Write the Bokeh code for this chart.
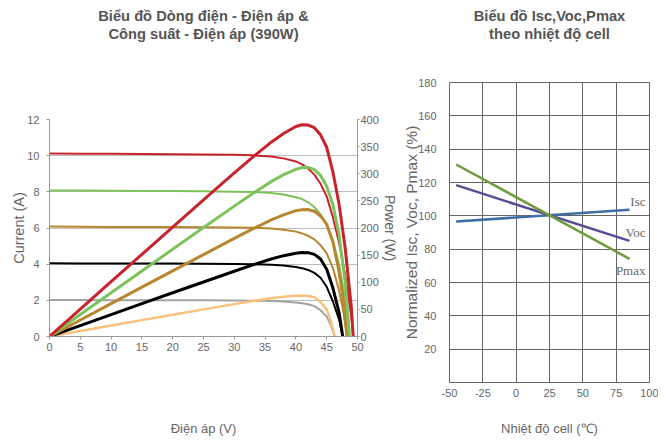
from jinja2 import Template
from bokeh.plotting import figure
from bokeh.models import Range1d, LinearAxis, FixedTicker, Label, Title
from bokeh.embed import file_html
from bokeh.resources import INLINE

# ---------------- Left chart data (I-V and P-V curves) ----------------
v_red = [0, 5, 10, 15, 20, 25, 30, 33, 36, 38, 40, 41, 42, 43, 44, 45, 46, 47, 48, 49, 49.3]
i_red = [10.12, 10.11, 10.1, 10.09, 10.08, 10.07, 10.05, 10.02, 9.95, 9.85, 9.68, 9.52, 9.28, 8.95, 8.45, 7.75, 6.6, 5.2, 3.4, 1.1, 0]
p_red = [0, 50.6, 101, 151.4, 201.6, 251.8, 301.5, 330.7, 358.2, 374.3, 387.2, 390.3, 389.8, 384.9, 371.8, 348.8, 303.6, 244.4, 163.2, 53.9, 0]

v_green = [0, 5, 10, 15, 20, 25, 30, 33, 36, 38, 40, 41, 42, 43, 44, 45, 46, 47, 48, 48.7]
i_green = [8.08, 8.07, 8.06, 8.05, 8.04, 8.03, 8.01, 7.99, 7.93, 7.85, 7.7, 7.6, 7.42, 7.15, 6.75, 6.15, 5.3, 4.0, 2.1, 0]
p_green = [0, 40.4, 80.6, 120.8, 160.8, 200.8, 240.3, 263.7, 285.5, 298.3, 308.0, 311.6, 311.6, 307.5, 297.0, 276.8, 243.8, 188.0, 100.8, 0]

v_brown = [0, 5, 10, 15, 20, 25, 30, 33, 36, 38, 40, 41, 42, 43, 44, 45, 46, 47, 47.7, 48.3]
i_brown = [6.08, 6.07, 6.06, 6.06, 6.05, 6.04, 6.03, 6.01, 5.97, 5.9, 5.8, 5.7, 5.57, 5.37, 5.05, 4.6, 3.8, 2.55, 1.4, 0]
p_brown = [0, 30.4, 60.6, 90.9, 121, 151, 180.9, 198.3, 214.9, 224.2, 232.0, 233.7, 233.9, 230.9, 222.2, 207.0, 174.8, 119.9, 66.8, 0]

v_black = [0, 5, 10, 15, 20, 25, 30, 33, 36, 38, 40, 41, 42, 43, 44, 45, 46, 47, 47.6]
i_black = [4.05, 4.04, 4.04, 4.03, 4.03, 4.02, 4.01, 4.0, 3.97, 3.92, 3.84, 3.78, 3.68, 3.52, 3.25, 2.75, 1.95, 0.95, 0]
p_black = [0, 20.2, 40.4, 60.5, 80.6, 100.5, 120.3, 132, 142.9, 149, 153.6, 155, 154.6, 151.4, 143.0, 123.8, 89.7, 44.7, 0]

v_gray = [0, 5, 10, 15, 20, 25, 30, 33, 36, 38, 40, 41, 42, 43, 44, 45, 45.7, 46.3]
i_gray = [2.02, 2.02, 2.01, 2.01, 2.0, 2.0, 1.99, 1.98, 1.96, 1.93, 1.88, 1.84, 1.78, 1.68, 1.45, 1.1, 0.6, 0]
p_gray = [0, 10.1, 20.1, 30.2, 40, 50, 59.7, 65.3, 70.6, 73.3, 75.2, 75.4, 74.8, 72.2, 63.8, 49.5, 27.4, 0]

x_ticks_left = [0, 5, 10, 15, 20, 25, 30, 35, 40, 45, 50]
y_ticks_current = [0, 2, 4, 6, 8, 10, 12]
y_ticks_power = [0, 50, 100, 150, 200, 250, 300, 350, 400]

# ---------------- Right chart data (temperature coefficients) ----------------
temp = [-45, 85]
isc_pct = [96.6, 103.6]
voc_pct = [118.4, 85.0]
pmax_pct = [130.8, 74.2]
x_ticks_right = [-50, -25, 0, 25, 50, 75, 100]
y_ticks_right = [20, 40, 60, 80, 100, 120, 140, 160, 180]

FONT = "Liberation Sans"
TICK_C = "#666666"
LABEL_C = "#666666"
TITLE_C = "#555555"
TITLE_SIZE = "14.7px"


def add_titles(p, line1, line2, gap):
    # spacer first (closest to the frame), then the two title lines stacked above it
    p.add_layout(Title(text=" ", align="center", standoff=gap, text_font=FONT,
                       text_font_size="1px", text_color=TITLE_C), "above")
    p.add_layout(Title(text=line2, align="center", standoff=0, text_font=FONT,
                       text_font_size=TITLE_SIZE, text_font_style="bold", text_color=TITLE_C), "above")
    p.add_layout(Title(text=line1, align="center", standoff=0, text_font=FONT,
                       text_font_size=TITLE_SIZE, text_font_style="bold", text_color=TITLE_C), "above")


def style_axis(ax, label_size):
    ax.minor_tick_line_color = None
    ax.major_label_text_font = FONT
    ax.major_label_text_font_size = "11px"
    ax.major_label_text_color = TICK_C
    ax.axis_label_text_font = FONT
    ax.axis_label_text_font_size = label_size
    ax.axis_label_text_font_style = "normal"
    ax.axis_label_text_color = LABEL_C


# ================= Left figure =================
p1 = figure(width=421, height=440, x_range=Range1d(0, 50), y_range=Range1d(0, 12),
            output_backend="svg", toolbar_location=None,
            min_border_left=53, min_border_right=60, min_border_top=115, min_border_bottom=108)
p1.extra_y_ranges = {"power": Range1d(0, 400)}
p1.outline_line_color = None
p1.background_fill_color = "white"

p1.xaxis.ticker = FixedTicker(ticks=x_ticks_left)
p1.yaxis.ticker = FixedTicker(ticks=y_ticks_current)
p1.xgrid.visible = False
p1.ygrid.grid_line_color = "#bdbdbd"
p1.ygrid.grid_line_width = 1

rax = LinearAxis(y_range_name="power", ticker=FixedTicker(ticks=y_ticks_power), axis_label="Power (W)")
p1.add_layout(rax, "right")

lax, bax = p1.yaxis[0], p1.xaxis[0]
for ax in [bax, lax, rax]:
    ax.axis_line_color = "#999999"
    ax.major_tick_line_color = "#999999"
    ax.major_tick_in = 0

style_axis(bax, "13px")
style_axis(lax, "14.5px")
style_axis(rax, "14px")

lax.axis_label = "Current (A)"
lax.major_tick_out = 3
lax.major_label_standoff = 7
lax.axis_label_standoff = -3

rax.major_tick_out = 2
rax.major_label_standoff = 1
rax.axis_label_standoff = 0

bax.axis_label = "Điện áp (V)"
bax.major_tick_out = 3
bax.major_label_standoff = 3
bax.axis_label_standoff = 67

c_red, c_green, c_brown, c_black, c_gray, c_orange = "#c8232c", "#7dc35b", "#b8862f", "#000000", "#a3a3a3", "#f8c27c"

# I-V curves
p1.line(v_red, i_red, line_color=c_red, line_width=2)
p1.line(v_green, i_green, line_color=c_green, line_width=2)
p1.line(v_brown, i_brown, line_color=c_brown, line_width=2)
p1.line(v_black, i_black, line_color=c_black, line_width=2)
p1.line(v_gray, i_gray, line_color=c_gray, line_width=2)
# P-V curves
p1.line(v_gray, p_gray, line_color=c_orange, line_width=2.5, y_range_name="power")
p1.line(v_black, p_black, line_color=c_black, line_width=3, y_range_name="power")
p1.line(v_brown, p_brown, line_color=c_brown, line_width=3, y_range_name="power")
p1.line(v_green, p_green, line_color=c_green, line_width=3, y_range_name="power")
p1.line(v_red, p_red, line_color=c_red, line_width=3, y_range_name="power")

add_titles(p1, "Biểu đồ Dòng điện - Điện áp &", "Công suất - Điện áp (390W)", 75)

# ================= Right figure =================
p2 = figure(width=269, height=440, x_range=Range1d(-50, 100), y_range=Range1d(0, 180),
            output_backend="svg", toolbar_location=None,
            min_border_left=60, min_border_right=9, min_border_top=78, min_border_bottom=62)
p2.border_fill_color = None
p2.background_fill_color = "white"
p2.outline_line_color = "#666666"
p2.outline_line_width = 1
p2.xaxis.ticker = FixedTicker(ticks=x_ticks_right)
p2.yaxis.ticker = FixedTicker(ticks=y_ticks_right)
p2.xaxis[0].major_label_overrides = {t: str(t) for t in x_ticks_right}
for g in [p2.xgrid[0], p2.ygrid[0]]:
    g.grid_line_color = "#666666"
    g.grid_line_width = 1
style_axis(p2.xaxis[0], "13px")
style_axis(p2.yaxis[0], "15.5px")
for ax in [p2.xaxis[0], p2.yaxis[0]]:
    ax.axis_line_color = None
    ax.major_tick_line_color = None
p2.yaxis[0].axis_label = "Normalized Isc, Voc, Pmax (%)"
p2.yaxis[0].major_label_standoff = 7
p2.yaxis[0].axis_label_standoff = -5
p2.xaxis[0].axis_label = "Nhiệt độ cell (℃)"
p2.xaxis[0].major_label_standoff = 0
p2.xaxis[0].axis_label_standoff = 21

p2.line(temp, isc_pct, line_color="#3f6ea6", line_width=2.5)
p2.line(temp, voc_pct, line_color="#584d94", line_width=2.5)
p2.line(temp, pmax_pct, line_color="#6f9b3d", line_width=2.5)

for txt, yy in [("Isc", 108.6), ("Voc", 90.0), ("Pmax", 67.4)]:
    p2.add_layout(Label(x=97, y=yy, text=txt, text_align="right", text_baseline="middle",
                        text_font="Liberation Serif", text_font_size="13px", text_color="#666666"))

add_titles(p2, "Biểu đồ Isc,Voc,Pmax", "theo nhiệt độ cell", 38)

# Two independent roots placed side by side (no frame alignment between them)
PAGE = Template("""{% from macros import embed %}<!DOCTYPE html>
<html lang="en">
<head>
<meta charset="utf-8">
<title>{{ title }}</title>
{{ bokeh_css }}
{{ bokeh_js }}
<style>body{margin:8px;overflow:hidden;background:#ffffff;}</style>
</head>
<body>
<div style="display:flex;flex-direction:row;align-items:flex-start;margin-top:-4px;">
<div style="flex:none;width:421px;height:440px;margin-left:-12px;">{{ embed(roots[0]) }}</div>
<div style="flex:none;width:269px;height:440px;margin-left:-28px;">{{ embed(roots[1]) }}</div>
</div>
{{ plot_script }}
</body>
</html>""")

open("out.html", "w").write(file_html([p1, p2], INLINE, title="chart", template=PAGE))
